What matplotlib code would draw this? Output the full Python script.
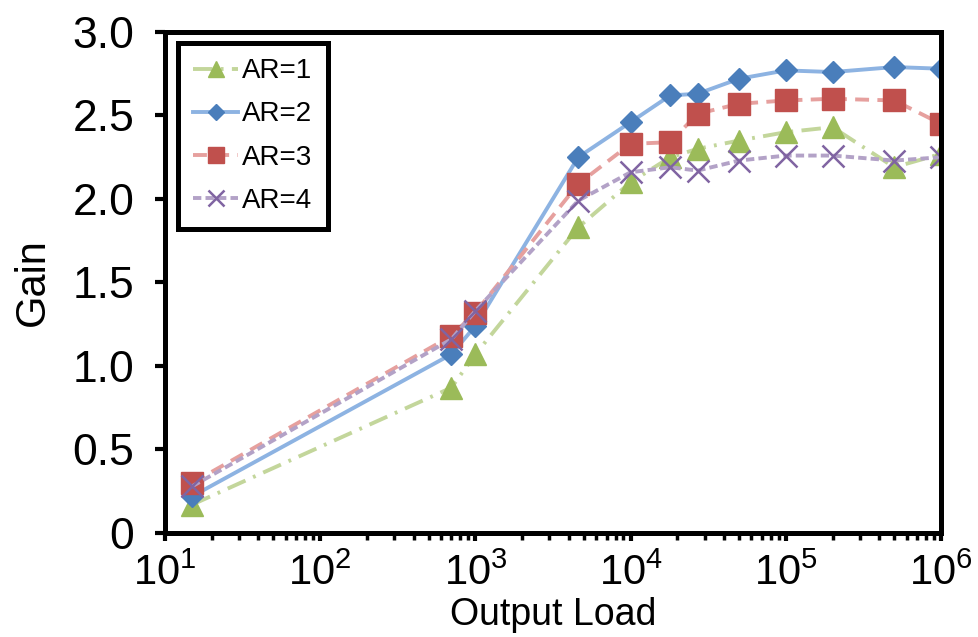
import matplotlib
matplotlib.use("Agg")
import matplotlib.pyplot as plt
import numpy as np
from matplotlib import font_manager
from matplotlib.ticker import FixedLocator, FuncFormatter, LogLocator, NullFormatter

# Schrift: Arial-ähnlich
names = {f.name for f in font_manager.fontManager.ttflist}
base_font = "Liberation Sans" if "Liberation Sans" in names else "DejaVu Sans"
plt.rcParams["font.family"] = [base_font, "DejaVu Sans"]
plt.rcParams["mathtext.fontset"] = "custom"
plt.rcParams["mathtext.rm"] = base_font
plt.rcParams["mathtext.it"] = base_font
plt.rcParams["lines.scale_dashes"] = False

# Messwerte
output_load = [15, 700, 1000, 4600, 1e4, 1.8e4, 2.7e4, 5e4, 1e5, 2e5, 5e5, 1e6]
gain_ar1 = [0.17, 0.87, 1.07, 1.83, 2.10, 2.25, 2.30, 2.35, 2.40, 2.43, 2.19, 2.27]
gain_ar2 = [0.22, 1.07, 1.24, 2.25, 2.46, 2.62, 2.63, 2.72, 2.77, 2.76, 2.79, 2.78]
gain_ar3 = [0.30, 1.18, 1.32, 2.09, 2.33, 2.34, 2.51, 2.57, 2.59, 2.60, 2.59, 2.45]
gain_ar4 = [0.28, 1.16, 1.33, 1.99, 2.16, 2.19, 2.17, 2.23, 2.26, 2.26, 2.23, 2.25]
labels = ["AR=1", "AR=2", "AR=3", "AR=4"]

fig = plt.figure(figsize=(9.79, 6.37), dpi=100)
ax = fig.add_axes([0.1685, 0.1633, 0.7927, 0.7865])

ax.plot(output_load, gain_ar1, color="#c3d69b", lw=2.8, ls=(0, (14, 6, 2, 6)),
        marker="^", ms=16, mfc="#9bbb59", mec="#9bbb59", label=labels[0])
ax.plot(output_load, gain_ar2, color="#8db3e2", lw=2.8, ls="-",
        marker="D", ms=11, mfc="#4a7ebb", mec="#4a7ebb", label=labels[1])
ax.plot(output_load, gain_ar3, color="#e6a09e", lw=2.8, ls=(0, (10, 6)),
        marker="s", ms=15.5, mfc="#c0504d", mec="#c0504d", label=labels[2])
ax.plot(output_load, gain_ar4, color="#b3a2c7", lw=2.8, ls=(0, (6, 3)),
        marker="x", ms=16, mew=1.8, mfc="#8064a2", mec="#8064a2", label=labels[3])

ax.set_xscale("log")
ax.set_xlim(10, 1e6)
ax.set_ylim(0, 3.0)

ax.yaxis.set_major_locator(FixedLocator([0, 0.5, 1.0, 1.5, 2.0, 2.5, 3.0]))
ax.yaxis.set_major_formatter(FuncFormatter(lambda v, p: "0" if v == 0 else f"{v:.1f}"))
ax.xaxis.set_major_locator(FixedLocator([1e1, 1e2, 1e3, 1e4, 1e5, 1e6]))
ax.xaxis.set_major_formatter(FuncFormatter(lambda v, p: r"$10^{%d}$" % round(np.log10(v))))
ax.xaxis.set_minor_locator(LogLocator(base=10, subs=np.arange(2, 10)))
ax.xaxis.set_minor_formatter(NullFormatter())

ax.tick_params(axis="y", which="major", direction="out", length=7, width=3,
               labelsize=32, pad=15)
ax.tick_params(axis="x", which="major", direction="out", length=6, width=3,
               labelsize=30, pad=9)
ax.tick_params(axis="x", which="minor", direction="out", length=5, width=2.5)
ax.tick_params(top=False, right=False)

for s in ax.spines.values():
    s.set_linewidth(3.6)

ax.set_xlabel("Output Load", fontsize=27)
ax.xaxis.set_label_coords(0.5, -0.128)
ax.set_ylabel("Gain", fontsize=30, labelpad=14)

leg = ax.legend(loc="upper left", bbox_to_anchor=(0.017, 0.978), borderaxespad=0,
                fontsize=20, fancybox=False, edgecolor="black", framealpha=1,
                handlelength=1.6, handletextpad=0.15, labelspacing=0.62,
                borderpad=0.55, markerscale=0.72)
leg.get_frame().set_linewidth(3.6)

fig.savefig("out.png", dpi=100)
